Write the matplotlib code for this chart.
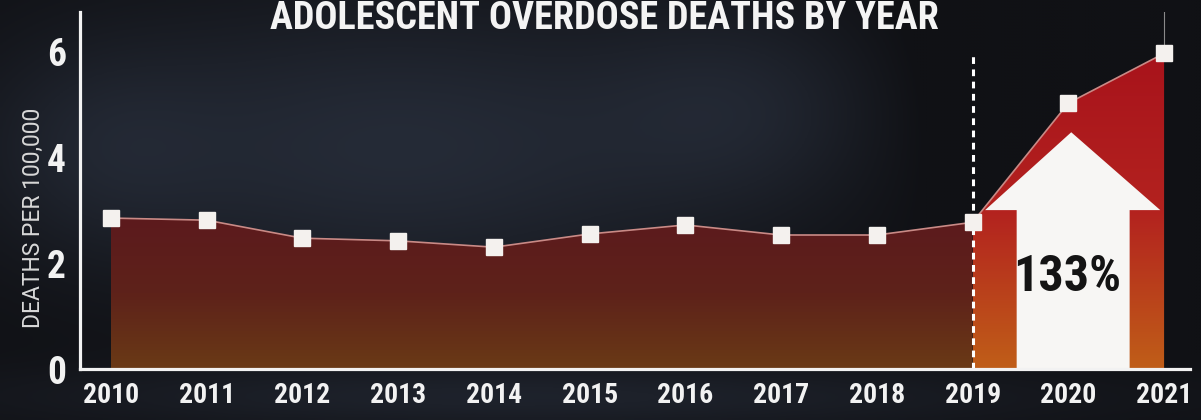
import numpy as np
import matplotlib.pyplot as plt
from matplotlib import font_manager as fm
from matplotlib.colors import LinearSegmentedColormap
from matplotlib.patches import Polygon

years = [2010, 2011, 2012, 2013, 2014, 2015, 2016, 2017, 2018, 2019, 2020, 2021]
rates = [2.85, 2.81, 2.47, 2.42, 2.30, 2.55, 2.72, 2.53, 2.53, 2.77, 5.02, 5.96]
ytick_vals = [0, 2, 4, 6]
pct_label = '133%'
title = 'ADOLESCENT OVERDOSE DEATHS BY YEAR'
ylabel = 'DEATHS PER 100,000'

# pick the narrowest family that is actually installed
installed = {f.name for f in fm.fontManager.ttflist}
condensed = {f.name for f in fm.fontManager.ttflist if f.stretch == 'condensed'}
stretch = 'normal'
cond = 'Liberation Sans'
for name in ['Roboto Condensed', 'Liberation Sans Narrow', 'Open Sans Condensed']:
    if name in installed:
        cond = name
        break
else:
    if 'DejaVu Sans' in condensed:
        cond, stretch = 'DejaVu Sans', 'condensed'
fams = [cond, 'DejaVu Sans']
plain = ['Roboto', 'DejaVu Sans']

fig = plt.figure(figsize=(12.01, 4.20), dpi=100)
fig.patch.set_facecolor('#1c1f25')

# dark backdrop made of a few soft blobs
bg = fig.add_axes([0, 0, 1, 1])
bg.axis('off')
gx, gy = np.meshgrid(np.linspace(0, 1, 400), np.linspace(0, 1, 140))
t = 0.8 * np.exp(-(((gx - 0.33) / 0.28) ** 2 + ((gy - 0.35) / 0.35) ** 2))
t += 0.45 * np.exp(-(((gx - 0.62) / 0.12) ** 2 + ((gy - 0.25) / 0.25) ** 2))
t += 0.35 * np.exp(-(((gx - 0.08) / 0.10) ** 2 + ((gy - 0.35) / 0.25) ** 2))
t += 0.5 * np.exp(-(((gx - 0.45) / 0.45) ** 2 + ((gy - 0.95) / 0.08) ** 2))
t -= 0.5 * np.exp(-(((gx - 0.92) / 0.14) ** 2 + ((gy - 0.2) / 0.40) ** 2))
t = np.clip(t, 0, 1)
dark = np.array([16, 17, 21]) / 255
light = np.array([42, 49, 63]) / 255
img = dark * (1 - t[..., None]) + light * t[..., None]
bg.imshow(img, extent=[0, 1, 0, 1], aspect='auto', origin='upper')
bg.set_xlim(0, 1)
bg.set_ylim(0, 1)

ax = fig.add_axes([0.0666, 0.1214, 0.9242, 0.85])
ax.patch.set_alpha(0)
ax.set_xlim(2009.676, 2021.27)
ax.set_ylim(0, 6.74)

x = np.array(years, dtype=float)
y = np.array(rates)
split = years.index(2019)

# gradient fills under the curve
old_cmap = LinearSegmentedColormap.from_list('old', ['#6a3a16', '#5e221a', '#5c1a1d'])
new_cmap = LinearSegmentedColormap.from_list('new', ['#c05e18', '#b3221f', '#a8131b'])
grad = np.linspace(0, 1, 256)[:, None]

for sl, cmap in [(slice(0, split + 1), old_cmap), (slice(split, None), new_cmap)]:
    poly = ax.fill_between(x[sl], 0, y[sl], facecolor='none', edgecolor='none')
    top = y[sl].max()
    im = ax.imshow(grad, cmap=cmap, origin='lower', aspect='auto',
                   extent=[x[sl][0], x[sl][-1], 0, top], zorder=1)
    im.set_clip_path(poly.get_paths()[0], transform=ax.transData)

# white arrow over 2019-2021
mid = 2020.03
arrow = Polygon([(mid - 0.57, 0), (mid - 0.57, 3.0), (mid - 0.90, 3.0), (mid, 4.47),
                 (mid + 0.93, 3.0), (mid + 0.61, 3.0), (mid + 0.61, 0)],
                closed=True, facecolor='#f7f6f4', edgecolor='none', zorder=2)
ax.add_patch(arrow)
ax.text(mid - 0.04, 1.72, pct_label, ha='center', va='center', color='#141414',
        fontsize=36, fontweight='black', family=fams, fontstretch=stretch, zorder=5)

# dashed marker for 2019
ax.plot([2019, 2019], [0, 5.92], color='white', lw=2.2, ls=(0, (2.2, 1.8)), zorder=3)
ax.plot([2021, 2021], [y[-1], 6.74], color='#8a8a8a', lw=0.8, zorder=3)

ax.plot(x, y, color='#c98a86', lw=1.2, zorder=4)
ax.plot(x, y, ls='none', marker='s', ms=12, color='#f4f1ee', zorder=6)

for s in ['top', 'right']:
    ax.spines[s].set_visible(False)
for s in ['left', 'bottom']:
    ax.spines[s].set_color('#f2f2f2')
    ax.spines[s].set_linewidth(2.3)
    ax.spines[s].set_zorder(7)

ax.set_xticks(years)
ax.set_xticklabels([str(v) for v in years])
ax.set_yticks(ytick_vals)
ax.tick_params(length=0, colors='#f2f2f2')
ax.tick_params(axis='x', pad=9)
ax.tick_params(axis='y', pad=10)
for lab in ax.get_xticklabels():
    lab.set_family(fams)
    lab.set_fontstretch(stretch)
    lab.set_fontweight('bold')
    lab.set_fontsize(20)
for lab in ax.get_yticklabels():
    lab.set_family(fams)
    lab.set_fontstretch(stretch)
    lab.set_fontweight('bold')
    lab.set_fontsize(27)

fig.text(0.0275, 0.482, ylabel, rotation=90, ha='center', va='center',
         color='#d8d8d8', fontsize=16.5, family=plain)
fig.text(0.503, 0.957, title, ha='center', va='center', color='#f4f4f4',
         fontsize=27.5, fontweight='bold', family=fams, fontstretch=stretch)

fig.savefig('out.png', dpi=100, facecolor=fig.get_facecolor())
